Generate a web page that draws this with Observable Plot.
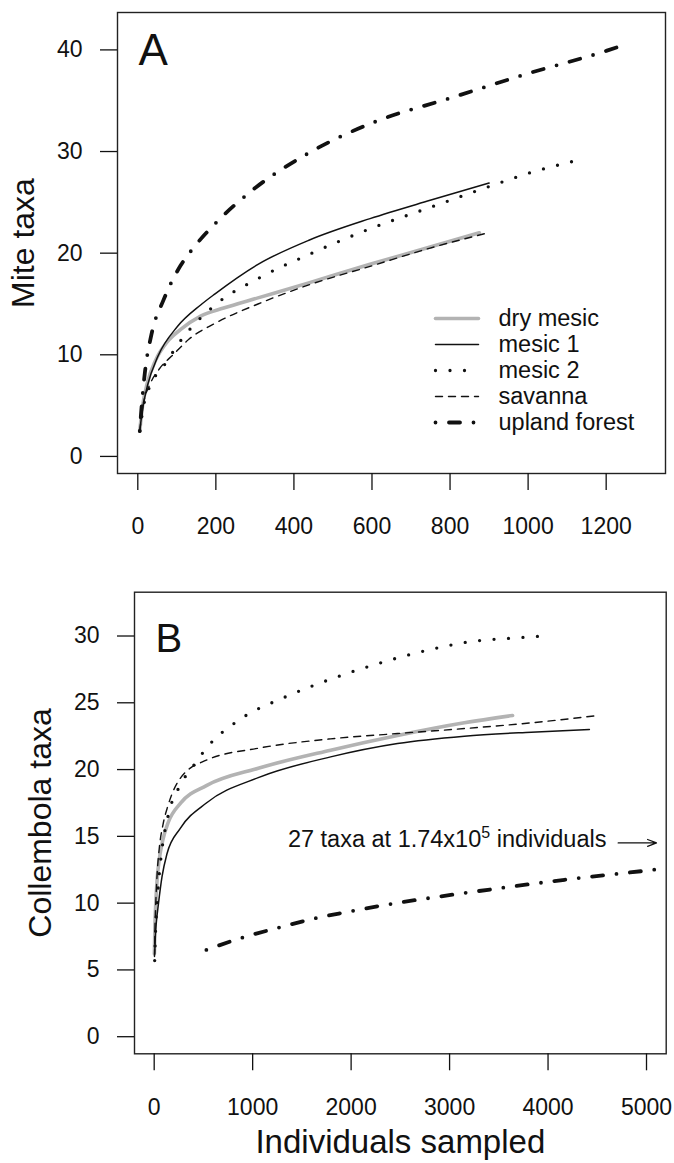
<!DOCTYPE html>
<html><head><meta charset="utf-8">
<script src="https://cdn.jsdelivr.net/npm/d3@7"></script>
<script src="https://cdn.jsdelivr.net/npm/@observablehq/plot@0.6"></script>
<style>
body{margin:0;background:#fff;}
#fig{position:relative;width:674px;height:1163px;font-family:"Liberation Sans",Arial,sans-serif;}
#fig svg{display:block;}
#legend{position:absolute;left:435px;top:300px;}
</style></head><body><div id="fig"></div>
<script>
// ---------- data ----------
const seriesNames = ["dry mesic", "mesic 1", "mesic 2", "savanna", "upland forest"];

// Panel A: mites  [individuals, taxa]
const miteDryMesic = [[5,2.5],[12,4.9],[25,7.3],[45,9.4],[76,11.3],[110,12.5],[161,13.8],[220,14.6],[308,15.6],[440,17.1],[595,18.9],[749,20.6],[875,22.0]];
const miteMesic1   = [[5,2.5],[12,4.6],[25,7.0],[51,9.8],[102,12.8],[161,14.9],[198,16.0],[308,18.9],[440,21.3],[595,23.4],[749,25.2],[900,26.9]];
const miteMesic2   = [[5,2.5],[15,5.0],[35,7.2],[68,9.0],[110,11.4],[198,14.9],[308,17.5],[440,19.9],[595,22.4],[749,24.5],[903,26.6],[1013,28.0],[1112,29.0]];
const miteSavanna  = [[5,2.5],[15,5.3],[30,7.0],[55,8.6],[93,10.1],[130,11.5],[198,13.1],[308,15.0],[440,16.9],[595,18.7],[749,20.5],[897,22.0]];
const miteUpland   = [[5,2.5],[12,5.9],[18,8.2],[35,12.0],[66,15.4],[110,18.8],[140,20.4],[198,22.9],[297,26.3],[440,29.9],[606,32.9],[804,35.3],[1002,37.7],[1200,39.9],[1255,40.6]];
const miteXTicks = [0, 200, 400, 600, 800, 1000, 1200];
const miteYTicks = [0, 10, 20, 30, 40];

// Panel B: collembola  [individuals, taxa]
const colDryMesic = [[2,6.2],[8,8.5],[15,9.8],[30,11.8],[50,13.2],[90,14.8],[140,16.0],[270,17.5],[530,18.8],[1057,20.1],[1792,21.45],[2471,22.55],[3150,23.5],[3640,24.05]];
const colMesic1   = [[5,6.2],[12,7.6],[20,8.4],[44,10.0],[80,12.0],[130,13.7],[265,15.6],[530,17.5],[1057,19.4],[1792,20.95],[2471,21.95],[3150,22.5],[3829,22.8],[4420,23.0]];
const colMesic2   = [[5,5.7],[12,7.5],[25,9.5],[45,11.6],[75,13.8],[140,16.5],[270,18.9],[400,20.3],[530,21.6],[880,23.8],[1320,25.4],[1843,26.9],[2396,28.2],[2811,29.0],[3235,29.6],[3659,29.85],[3950,30.0]];
const colSavanna  = [[3,6.0],[8,8.2],[15,9.8],[30,12.2],[50,14.0],[90,15.9],[140,17.3],[270,19.4],[530,20.7],[1057,21.6],[1792,22.3],[2471,22.7],[3150,23.07],[3829,23.5],[4508,24.05]];
const colUpland   = [[530,6.5],[910,7.45],[1283,8.2],[1657,8.9],[1930,9.3],[2500,10.05],[2811,10.4],[3490,11.1],[4168,11.75],[5017,12.45],[5190,12.6]];
const colXTicks = [0, 1000, 2000, 3000, 4000, 5000];
const colYTicks = [0, 5, 10, 15, 20, 25, 30];

// Annotation in panel B
const annText = "27 taxa at 1.74x10^5 individuals";
const annTextX = 4593, annTextY = 14.21;
const annArrowX1 = 4712, annArrowX2 = 5102, annArrowY = 14.51;

// ---------- styles ----------
const FONT = "'Liberation Sans', Arial, Helvetica, sans-serif";
const INK = "#111";
const styles = {
  "dry mesic":     {stroke: "#b3b3b3", strokeWidth: 3.6},
  "mesic 1":       {stroke: INK, strokeWidth: 1.5},
  "mesic 2":       {stroke: INK, strokeWidth: 3.3, strokeDasharray: "0 14.5", strokeLinecap: "round"},
  "savanna":       {stroke: INK, strokeWidth: 1.4, strokeDasharray: "7 6"},
  "upland forest": {stroke: INK, strokeWidth: 3.8, strokeDasharray: "0 13.5 11 13.5", strokeLinecap: "round"}
};

function curves(byName) {
  return seriesNames.map(n => Plot.line(byName[n], {x: d => d[0], y: d => d[1], curve: "monotone-x", ...styles[n]}));
}
const baseStyle = {fontFamily: FONT, fontSize: "23px", color: INK, background: "white", overflow: "visible"};
const fmt = d => String(d);

// ---------- Panel A ----------
const plotA = Plot.plot({
  width: 674, height: 560,
  marginLeft: 117, marginRight: 9, marginTop: 12, marginBottom: 87,
  style: baseStyle,
  x: {domain: [-52, 1352]},
  y: {domain: [-1.68, 43.68]},
  marks: [
    ...curves({"dry mesic": miteDryMesic, "mesic 1": miteMesic1, "mesic 2": miteMesic2, "savanna": miteSavanna, "upland forest": miteUpland}),
    Plot.frame({stroke: "#222", strokeWidth: 1.4}),
    Plot.axisX(miteXTicks, {tickSize: 17, tickPadding: 27, strokeWidth: 1.3, tickFormat: fmt, label: null, fontSize: 23}),
    Plot.axisY(miteYTicks, {tickSize: 17, tickPadding: 18, strokeWidth: 1.3, tickFormat: fmt, label: null, fontSize: 23}),
    Plot.text(["A"], {frameAnchor: "top-left", dx: 21, dy: 21.6, fontSize: 44, lineAnchor: "top", textAnchor: "start"}),
    Plot.text(["Mite taxa"], {frameAnchor: "left", dx: -94, rotate: -90, fontSize: 32, textAnchor: "middle", lineAnchor: "middle"})
  ]
});

// ---------- Panel B ----------
const plotB = Plot.plot({
  width: 674, height: 603,
  marginLeft: 134, marginRight: 8.3, marginTop: 31.7, marginBottom: 109.7,
  style: baseStyle,
  x: {domain: [-200, 5200]},
  y: {domain: [-1.28, 33.28]},
  marks: [
    ...curves({"dry mesic": colDryMesic, "mesic 1": colMesic1, "mesic 2": colMesic2, "savanna": colSavanna, "upland forest": colUpland}),
    Plot.frame({stroke: "#222", strokeWidth: 1.4}),
    Plot.axisX(colXTicks, {tickSize: 17, tickPadding: 27.5, strokeWidth: 1.3, tickFormat: fmt, label: null, fontSize: 23}),
    Plot.axisY(colYTicks, {tickSize: 17, tickPadding: 18, strokeWidth: 1.3, tickFormat: fmt, label: null, fontSize: 23}),
    Plot.text(["B"], {frameAnchor: "top-left", dx: 21, dy: 31.6, fontSize: 40, lineAnchor: "top", textAnchor: "start"}),
    Plot.text(["Collembola taxa"], {frameAnchor: "left", dx: -94, rotate: -90, fontSize: 32, textAnchor: "middle", lineAnchor: "middle"}),
    Plot.text(["Individuals sampled"], {frameAnchor: "bottom", dy: 99.4, lineAnchor: "bottom", textAnchor: "middle", fontSize: 33}),
    Plot.text([annText], {x: annTextX, y: annTextY, textAnchor: "end", lineAnchor: "bottom", fontSize: 23.5, fill: INK}),
    Plot.arrow([annText], {x1: annArrowX1, x2: annArrowX2, y1: annArrowY, y2: annArrowY, bend: false, headLength: 12, headAngle: 42, strokeWidth: 1.2, stroke: INK})
  ]
});

// superscript in the annotation
plotB.querySelectorAll("text").forEach(t => {
  if (t.textContent === annText) {
    const [pre, post] = annText.split("^5");
    const NS = "http://www.w3.org/2000/svg";
    t.textContent = pre;
    const sup = document.createElementNS(NS, "tspan");
    sup.setAttribute("dy", "-9"); sup.setAttribute("font-size", "16"); sup.textContent = "5";
    const rest = document.createElementNS(NS, "tspan");
    rest.setAttribute("dy", "9"); rest.textContent = " " + post.trim();
    t.appendChild(sup); t.appendChild(rest);
  }
});

// ---------- Legend (panel A, inside plot frame) ----------
const legend = Plot.plot({
  width: 230, height: 140,
  marginLeft: 0, marginRight: 187, marginTop: 16.7, marginBottom: 16.7,
  style: {fontFamily: FONT, fontSize: "23.5px", color: INK, background: "transparent", overflow: "visible"},
  x: {domain: [0, 1], axis: null},
  y: {type: "point", domain: seriesNames, padding: 0, axis: null},
  marks: [
    ...seriesNames.map(n => Plot.line([[0, n], [1, n]], {x: d => d[0], y: d => d[1], ...styles[n]})),
    Plot.text(seriesNames, {x: 1, y: d => d, dx: 20, textAnchor: "start", fontSize: 23.5, fill: INK})
  ]
});
legend.id = "legend";

const fig = document.getElementById("fig");
fig.appendChild(plotA);
fig.appendChild(plotB);
fig.appendChild(legend);
</script></body></html>
